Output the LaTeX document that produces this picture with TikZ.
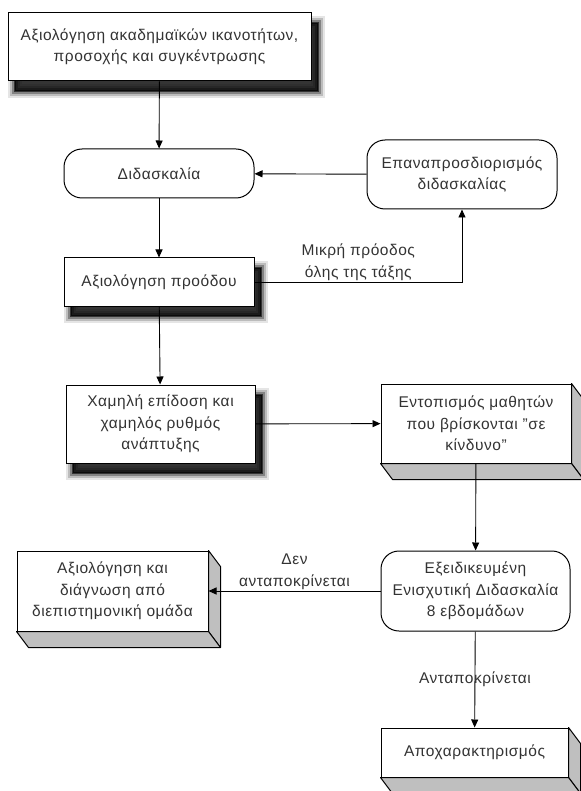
\documentclass[tikz,border=0pt]{standalone}
\usepackage{fontspec}
\setmainfont{Liberation Sans}[LetterSpace=3.5]
\usetikzlibrary{arrows.meta,shadows}

\tikzset{
  stage/.style={draw, fill=white, line width=1pt, align=center, inner sep=2pt, text=black!80},
  shadowed/.style={
    general shadow={draw=black, fill=black, line width=14pt, opacity=.1, shadow xshift=7pt, shadow yshift=-10pt},
    general shadow={draw=black, fill=black, line width=10pt, opacity=.18, shadow xshift=7pt, shadow yshift=-10pt},
    general shadow={draw=black, fill=black, line width=6pt, opacity=.3, shadow xshift=7pt, shadow yshift=-10pt},
    general shadow={draw=black, fill=black, line width=2pt, opacity=.6, shadow xshift=7pt, shadow yshift=-10pt}},
  roundstage/.style={stage, rounded corners=18pt},
  flow/.style={-{Triangle[length=8pt,width=7pt]}, line width=0.9pt},
  depthface/.style={draw, fill=gray!50, line width=1pt, line join=round},
  flowlabel/.style={align=center, inner sep=1pt, text=black!80},
}

\begin{document}
\begin{tikzpicture}[x=1pt, y=-1pt, font=\fontsize{15.5}{21.5}\selectfont]
\useasboundingbox (0,0) rectangle (580,791);
	\node[stage, shadowed, minimum width=303pt, minimum height=68pt] (assess) at (159.5,47) {Αξιολόγηση ακαδημαϊκών ικανοτήτων,\\προσοχής και συγκέντρωσης};
	\node[roundstage, minimum width=190pt, minimum height=49pt] (teach) at (159,173.5) {Διδασκαλία};
	\node[roundstage, minimum width=190pt, minimum height=69pt] (redef) at (462,174.5) {Επαναπροσδιορισμός\\διδασκαλίας};
	\node[stage, shadowed, minimum width=190pt, minimum height=48pt] (progress) at (159,282) {Αξιολόγηση προόδου};
	\node[stage, shadowed, minimum width=189pt, minimum height=78pt] (low) at (160.5,424) {Χαμηλή επίδοση και\\χαμηλός ρυθμός\\ανάπτυξης};
	\node[stage, minimum width=190pt, minimum height=79pt] (spot) at (476,423.5) {Εντοπισμός μαθητών\\που βρίσκονται "σε\\κίνδυνο"};
	\node[roundstage, minimum width=189pt, minimum height=80pt] (special) at (475.5,591) {Εξειδικευμένη\\Ενισχυτική Διδασκαλία\\8 εβδομάδων};
	\node[stage, minimum width=191pt, minimum height=80pt] (team) at (112.5,591) {Αξιολόγηση και\\διάγνωση από\\διεπιστημονική ομάδα};
	\node[stage, minimum width=187pt, minimum height=49pt] (declass) at (474.5,752.5) {Αποχαρακτηρισμός};
	% depth of the 3d boxes
	\foreach \n in {spot,team,declass}{
		\draw[depthface] (\n.north east) -- ++(12,16) -- ([shift={(12,16)}]\n.south east) -- (\n.south east) -- cycle;
		\draw[depthface] (\n.south west) -- ++(12,16) -- ([shift={(12,16)}]\n.south east) -- (\n.south east) -- cycle;
	}
	\draw[flow] (assess) -- (teach);
	\draw[flow] (teach) -- (progress);
	\draw[flow] (redef) -- (teach);
	\draw[flow] (progress.east) -| node[flowlabel, pos=.25, above] (fewprog) {Μικρή πρόοδος\\όλης της τάξης} (redef.south);
	\draw[flow] (progress) -- (low);
	\draw[flow] (low) -- (spot);
	\draw[flow] (spot) -- (special);
	\draw[flow] (special) -- node[flowlabel, above] (noreply) {Δεν\\ανταποκρίνεται} (team);
	\draw[flow] (special) -- node[flowlabel] (reply) {Ανταποκρίνεται} (declass);
\end{tikzpicture}
\end{document}
